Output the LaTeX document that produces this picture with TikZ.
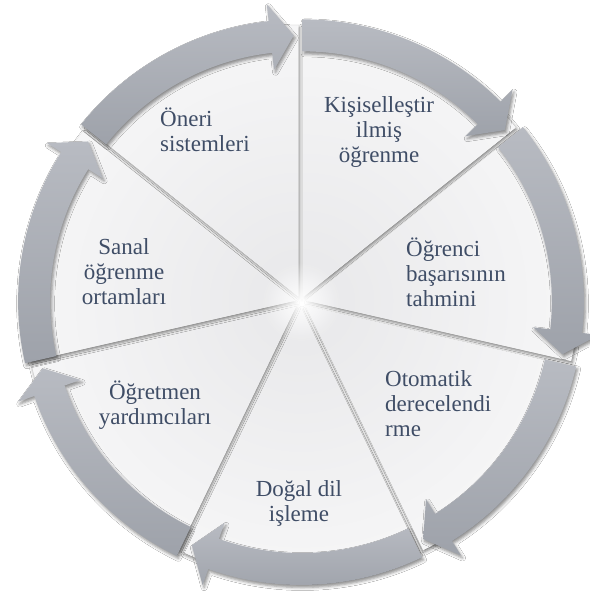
\documentclass[tikz,border=0pt]{standalone}
\usepackage{fontspec}
\setmainfont{Liberation Serif}
\usetikzlibrary{shadows.blur,fadings}
\definecolor{txt}{HTML}{3F4D66}
\definecolor{arrowtop}{HTML}{B8BBC2}
\definecolor{arrowbot}{HTML}{9EA2AA}
\definecolor{wedgein}{HTML}{E8E8EA}
\tikzfading[name=glowfade, inner color=transparent!0, outer color=transparent!100]
\tikzset{
  lbl/.style={text=txt, font=\fontsize{23}{25}\selectfont, inner sep=0pt},
  arrowband/.style={top color=arrowtop, bottom color=arrowbot,
    blur shadow={shadow xshift=1.5pt, shadow yshift=-2.5pt, shadow blur radius=3pt, shadow opacity=45}},
  wedgebase/.style={fill=white,
    blur shadow={shadow xshift=1pt, shadow yshift=-2pt, shadow blur radius=3.5pt, shadow opacity=55}},
}
\begin{document}
\begin{tikzpicture}[x=1pt,y=1pt]
\useasboundingbox (0,0) rectangle (589,594);
\fill[white] (0,0) rectangle (589,594);
\begin{scope}[shift={(301,292)}]
  % wedges
  \foreach \k in {0,...,6}{
    \pgfmathsetmacro{\aS}{90-\k*360/7}
    \pgfmathsetmacro{\aE}{\aS-360/7}
    \pgfmathsetmacro{\aM}{\aS-180/7}
    \begin{scope}[shift={(\aM:6)}]
      \path[wedgebase] (0,0) -- (\aS:271) arc[start angle=\aS, end angle=\aE, radius=271] -- cycle;
      \begin{scope}
        \clip (0,0) -- (\aS:271) arc[start angle=\aS, end angle=\aE, radius=271] -- cycle;
        \shade[inner color=wedgein, outer color=white] (0,0) circle (440);
      \end{scope}
    \end{scope}
  }
  \fill[white, path fading=glowfade] (0,0) circle (40);
  % arrows
  \foreach \k in {0,...,6}{
    \pgfmathsetmacro{\aS}{90-\k*360/7}
    \pgfmathsetmacro{\aE}{\aS-360/7}
    \pgfmathsetmacro{\aM}{\aS-180/7}
    \pgfmathsetmacro{\aB}{\aE+6.3}
    \pgfmathsetmacro{\aT}{\aE+1.2}
    \begin{scope}[shift={(\aM:4)}]
      \path[arrowband] (\aS:247) -- (\aS:279)
        arc[start angle=\aS, end angle=\aB, radius=279]
        -- (\aB:296) -- (\aT:263) -- (\aB:230) -- (\aB:247)
        arc[start angle=\aB, end angle=\aS, radius=247] -- cycle;
    \end{scope}
  }
\end{scope}
\node[lbl, anchor=west, align=left] (n1) at (160,464) {Öneri\\sistemleri};
\node[lbl, align=center] (n2) at (379,462) {Kişiselleştir\\ilmiş\\öğrenme};
\node[lbl, anchor=west, align=left] (n3) at (406,322) {Öğrenci\\başarısının\\tahmini};
\node[lbl, anchor=west, align=left] (n4) at (385,190) {Otomatik\\derecelendi\\rme};
\node[lbl, align=center] (n5) at (299,91) {Doğal dil\\işleme};
\node[lbl, align=center] (n6) at (155,189) {Öğretmen\\yardımcıları};
\node[lbl, align=center] (n7) at (124,322) {Sanal\\öğrenme\\ortamları};
\end{tikzpicture}
\end{document}
